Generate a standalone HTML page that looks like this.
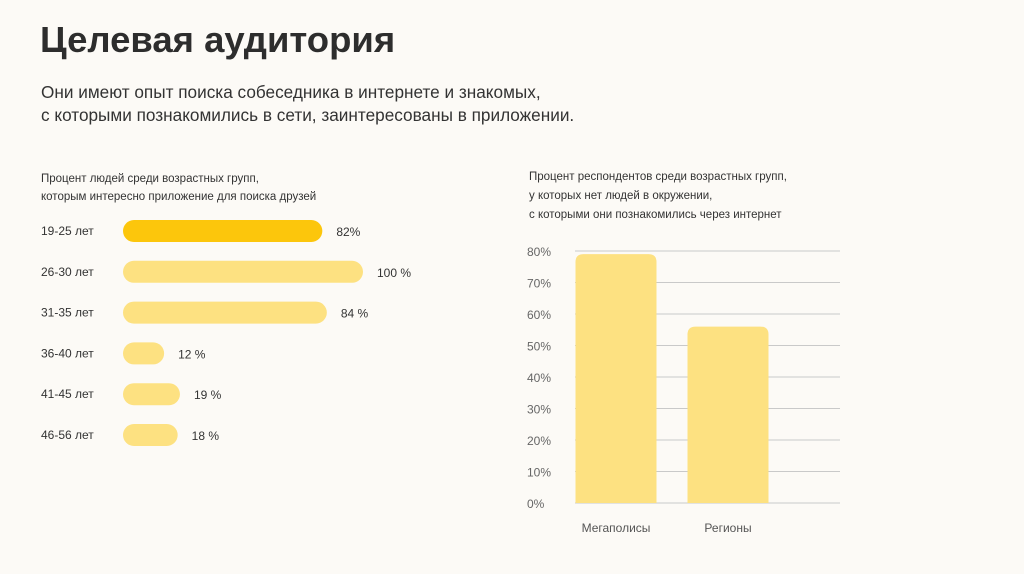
<!DOCTYPE html>
<html><head><meta charset="utf-8">
<style>
body{margin:0;background:#fcfaf6;font-family:"Liberation Sans","Noto Sans CJK SC",sans-serif;}
#page{position:relative;width:1024px;height:574px;overflow:hidden;background:#fcfaf6;color:#2b2b2b;}
.t{position:absolute;white-space:nowrap;}
</style></head><body>
<div id="page">
<div class="t" style="left:40px;top:19px;font-size:36.5px;font-weight:bold;color:#2d2d2d;">Целевая аудитория</div>
<div class="t" style="left:41px;top:81px;font-size:17.2px;line-height:23px;color:#333;">Они имеют опыт поиска собеседника в интернете и знакомых,<br>с которыми познакомились в сети, заинтересованы в приложении.</div>
<div class="t" style="left:41px;top:170px;font-size:11.5px;line-height:18px;color:#333;">Процент людей среди возрастных групп,<br>которым интересно приложение для поиска друзей</div>
<div class="t" style="left:529px;top:168px;font-size:11.5px;line-height:19px;color:#333;">Процент респондентов среди возрастных групп,<br>у которых нет людей в окружении,<br>с которыми они познакомились через интернет</div>
<svg id="left" width="1024" height="574" style="position:absolute;left:0;top:0"></svg>
<svg id="right" width="1024" height="574" style="position:absolute;left:0;top:0"></svg>
</div>
<script>
const ageGroups=["19-25 лет","26-30 лет","31-35 лет","36-40 лет","41-45 лет","46-56 лет"];
const interestValues=[82,100,84,12,19,18];
const interestLabels=["82%","100 %","84 %","12 %","19 %","18 %"];
const regionCategories=["Мегаполисы","Регионы"];
const regionValues=[79,56];
const yTicks=[0,10,20,30,40,50,60,70,80];
const yTickLabels=["0%","10%","20%","30%","40%","50%","60%","70%","80%"];
const NS="http://www.w3.org/2000/svg";
function mk(svg,tag,attrs,txt){const e=document.createElementNS(NS,tag);for(const k in attrs)e.setAttribute(k,attrs[k]);if(txt!==undefined)e.textContent=txt;svg.appendChild(e);return e;}
// left chart
const L=document.getElementById('left');
const xw=v=>14+v*2.26;
const rowY=i=>231+i*40.8;
ageGroups.forEach((g,i)=>{
 const y=rowY(i);
 const lab=mk(L,'text',{x:41,y:y+4,'font-size':12,fill:'#333','font-family':'Liberation Sans, sans-serif'},g);
 
 
 const w=xw(interestValues[i]);
 const r=mk(L,'rect',{x:123,y:y-11,width:w,height:22,rx:11,fill:i===0?'#fcc60c':'#fde181'});
 
 
 const vl=mk(L,'text',{x:123+w+14,y:y+5,'font-size':12,fill:'#333','font-family':'Liberation Sans, sans-serif'},interestLabels[i]);
 
 
});
// right chart
const R=document.getElementById('right');
const y0=503,yPer=31.5/10;
const ys=v=>y0-v*yPer;
yTicks.forEach((t,i)=>{
 const y=ys(t);
 const gl=mk(R,'line',{x1:575,x2:840,y1:y,y2:y,stroke:'#c9c9c9','stroke-width':1});
 
 
 const tl=mk(R,'text',{x:527,y:y+5,'font-size':12,fill:'#666','font-family':'Liberation Sans, sans-serif'},yTickLabels[i]);
 
 
});
const cx=i=>616+i*112, bw=81;
regionCategories.forEach((c,i)=>{
 const top=ys(regionValues[i]);
 const b=mk(R,'path',{d:`M${cx(i)-bw/2},${y0} V${top+8} Q${cx(i)-bw/2},${top} ${cx(i)-bw/2+8},${top} H${cx(i)+bw/2-8} Q${cx(i)+bw/2},${top} ${cx(i)+bw/2},${top+8} V${y0} Z`,fill:'#fde181'});
 
 
 const cl=mk(R,'text',{x:cx(i),y:532,'text-anchor':'middle','font-size':12,fill:'#555','font-family':'Liberation Sans, sans-serif'},c);
 
 
});
</script>
</body></html>
